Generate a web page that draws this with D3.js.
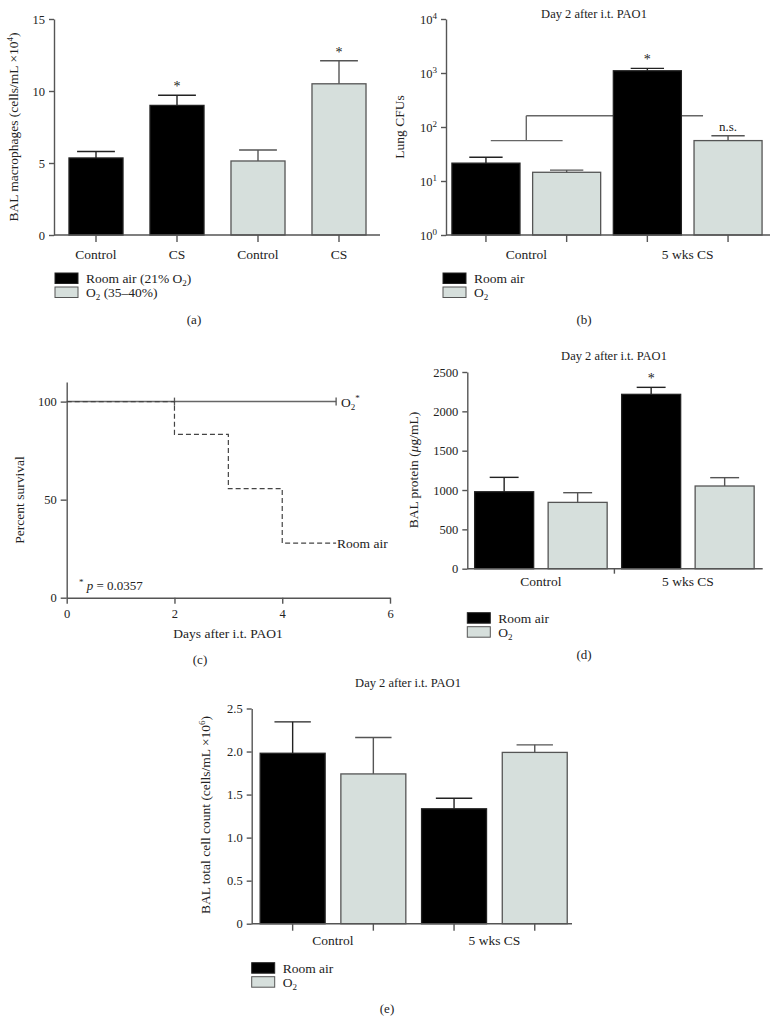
<!DOCTYPE html>
<html><head><meta charset="utf-8">
<script src="https://cdn.jsdelivr.net/npm/d3@7"></script>
<style>
body{margin:0;background:#fff}
svg text{font-family:"Liberation Serif","DejaVu Serif",serif;fill:#222}
</style>
</head><body>
<svg id="chart" width="778" height="1036"></svg>
<script>
// ---------- DATA ----------
// (a)
const aCategories = ["Control", "CS", "Control", "CS"];
const aSeries = ["room", "room", "o2", "o2"];
const aValues = [5.35, 9.0, 5.14, 10.5];
const aErrUpper = [5.8, 9.7, 5.9, 12.1];
const aStars = [false, true, false, true];
const aTicks = [0, 5, 10, 15];
// (b)
const bGroups = ["Control", "5 wks CS"];
const bSeries = ["room", "o2", "room", "o2"];
const bValues = [21.4, 14.5, 1100, 56];
const bErrUpper = [27.5, 15.9, 1220, 69];
const bTicks = [1, 10, 100, 1000, 10000];
const bBracket = [56, 162];
// (c)
const cO2 = [[0, 100], [5, 100]];
const cO2Censor = [2, 5];
const cRoomAir = [[0, 100], [2, 83.3], [3, 55.6], [4, 27.8], [5, 27.8]];
const cXTicks = [0, 2, 4, 6];
const cYTicks = [0, 50, 100];
// (d)
const dGroups = ["Control", "5 wks CS"];
const dSeries = ["room", "o2", "room", "o2"];
const dValues = [978, 843, 2216, 1051];
const dErrUpper = [1161, 966, 2305, 1157];
const dStars = [false, false, true, false];
const dTicks = [0, 500, 1000, 1500, 2000, 2500];
// (e)
const eGroups = ["Control", "5 wks CS"];
const eSeries = ["room", "o2", "room", "o2"];
const eValues = [1.98, 1.74, 1.335, 1.99];
const eErrUpper = [2.345, 2.163, 1.458, 2.078];
const eTicks = [0, 0.5, 1.0, 1.5, 2.0, 2.5];

// ---------- STYLE ----------
const FILL = {room: "#000000", o2: "#d6dfdc"};
const STROKE = {room: "#222", o2: "#555"};
const AX = "#555";
const svg = d3.select("#chart");

function styleAxis(g) {
  g.selectAll("path,line").attr("stroke", AX).attr("stroke-width", 1.4);
  g.selectAll("text").attr("fill", "#222");
}

function legend(x, y, labelsFn) {
  const g = svg.append("g").attr("transform", `translate(${x},${y})`);
  ["room", "o2"].forEach((k, i) => {
    g.append("rect").attr("x", 0).attr("y", i * 14).attr("width", 23).attr("height", 10.5)
      .attr("fill", FILL[k]).attr("stroke", STROKE[k]).attr("stroke-width", 1);
    const t = g.append("text").attr("x", 31).attr("y", i * 14 + 10).attr("font-size", 13.5);
    labelsFn(k, t);
  });
}

function barPanel(o) {
  const n = o.values.length;
  const x = d3.scaleBand().domain(d3.range(n)).range(o.band)
    .paddingInner(o.padIn).paddingOuter(o.padIn / 2);
  const y = o.y;
  const g = svg.append("g");
  const bw = x.bandwidth();
  const y0 = y.range()[0];
  if (o.behind) o.behind(g, x, y);
  g.selectAll("rect.bar").data(o.values).join("rect")
    .attr("x", (d, i) => x(i)).attr("width", bw)
    .attr("y", d => y(d)).attr("height", d => y0 - y(d))
    .attr("fill", (d, i) => FILL[o.series[i]])
    .attr("stroke", (d, i) => STROKE[o.series[i]]).attr("stroke-width", 1.3);
  const cap = bw * o.capFrac;
  o.err.forEach((e, i) => {
    const cx = x(i) + bw / 2;
    const col = o.series[i] === "room" ? "#222" : "#555";
    g.append("line").attr("x1", cx).attr("x2", cx).attr("y1", y(o.values[i])).attr("y2", y(e))
      .attr("stroke", col).attr("stroke-width", 1.4);
    g.append("line").attr("x1", cx - cap / 2).attr("x2", cx + cap / 2).attr("y1", y(e)).attr("y2", y(e))
      .attr("stroke", col).attr("stroke-width", 1.4);
    if (o.stars && o.stars[i]) {
      g.append("text").attr("x", cx).attr("y", y(e) - 4).attr("text-anchor", "middle")
        .attr("font-size", 14).text("*");
    }
  });
  const ya = g.append("g").attr("transform", `translate(${o.axisX0},0)`)
    .call(d3.axisLeft(y).tickValues(o.yTicks).tickSize(5).tickSizeOuter(0).tickPadding(4)
      .tickFormat(o.yFormat || (d => d)));
  ya.selectAll("text").attr("font-size", 12.5);
  styleAxis(ya);
  if (o.yTickHook) o.yTickHook(ya);
  g.append("line").attr("x1", o.axisX0).attr("x2", o.axisX1).attr("y1", y0).attr("y2", y0)
    .attr("stroke", AX).attr("stroke-width", 1.4);
  const tickXs = o.xTickMode === "middle"
    ? [(x(1) + bw + x(2)) / 2]
    : d3.range(n).map(i => x(i) + bw / 2);
  const tickLen = o.xTickMode === "middle" ? 5 : 7;
  tickXs.forEach(tx => g.append("line").attr("x1", tx).attr("x2", tx).attr("y1", y0).attr("y2", y0 + tickLen)
    .attr("stroke", AX).attr("stroke-width", 1.4));
  if (o.barLabels) {
    o.barLabels.forEach((l, i) => g.append("text").attr("x", x(i) + bw / 2).attr("y", y0 + 24)
      .attr("text-anchor", "middle").attr("font-size", 13.5).text(l));
  }
  if (o.groupLabels) {
    o.groupLabels.forEach((l, gi) => {
      const cx = (x(gi * 2) + x(gi * 2 + 1) + bw) / 2;
      g.append("text").attr("x", cx).attr("y", y0 + o.groupLabelDy)
        .attr("text-anchor", "middle").attr("font-size", 13.5).text(l);
    });
  }
  if (o.after) o.after(g, x, y);
  return {x, y};
}

function rotLabel(cx, cy, build) {
  const t = svg.append("text").attr("transform", `translate(${cx},${cy}) rotate(-90)`)
    .attr("text-anchor", "middle").attr("font-size", 13.5);
  build(t);
}
function title(cx, y, s) {
  svg.append("text").attr("x", cx).attr("y", y).attr("text-anchor", "middle").attr("font-size", 12.5).text(s);
}
function panelTag(cx, y, s) {
  svg.append("text").attr("x", cx).attr("y", y).attr("text-anchor", "middle").attr("font-size", 13).text(s);
}
function o2Label(k, t) {
  if (k === "room") t.text("Room air");
  else { t.append("tspan").text("O"); t.append("tspan").attr("dy", 3).attr("font-size", 9).text("2"); }
}

// ---------- (a) ----------
barPanel({
  values: aValues, err: aErrUpper, series: aSeries, stars: aStars,
  band: [55.5, 379.5], padIn: 0.333, capFrac: 0.7,
  y: d3.scaleLinear().domain([0, 15]).range([235, 19]), yTicks: aTicks,
  axisX0: 54, axisX1: 380, barLabels: aCategories
});
rotLabel(18, 127, t => {
  t.append("tspan").text("BAL macrophages (cells/mL \u00d710");
  t.append("tspan").attr("dy", -5).attr("font-size", 9).text("4");
  t.append("tspan").attr("dy", 5).text(")");
});
legend(55, 273, (k, t) => {
  if (k === "room") {
    t.append("tspan").text("Room air (21% O");
    t.append("tspan").attr("dy", 3).attr("font-size", 9).text("2");
    t.append("tspan").attr("dy", -3).text(")");
  } else {
    t.append("tspan").text("O");
    t.append("tspan").attr("dy", 3).attr("font-size", 9).text("2");
    t.append("tspan").attr("dy", -3).text(" (35\u201340%)");
  }
});
panelTag(194, 324, "(a)");

// ---------- (b) ----------
barPanel({
  values: bValues, err: bErrUpper, series: bSeries, stars: [false, false, true, false],
  band: [445.6, 768.4], padIn: 0.157, capFrac: 0.49,
  y: d3.scaleLog().domain([1, 10000]).range([235, 19]), yTicks: bTicks,
  yFormat: () => "",
  yTickHook: ya => {
    ya.selectAll(".tick text").each(function (d) {
      const t = d3.select(this);
      t.append("tspan").text("10");
      t.append("tspan").attr("dy", -5).attr("font-size", 9).text(Math.round(Math.log10(d)));
    });
  },
  axisX0: 446, axisX1: 770, groupLabels: bGroups, groupLabelDy: 24,
  behind: (g, x, y) => {
    const bw = x.bandwidth();
    const c1 = (x(0) + x(1) + bw) / 2;
    const xEnd = x(2) + bw / 2 + x.step() * 0.69;
    const L = [
      [c1 - x.step() * 0.44, y(bBracket[0]), c1 + x.step() * 0.45, y(bBracket[0])],
      [c1, y(bBracket[0]), c1, y(bBracket[1])],
      [c1, y(bBracket[1]), xEnd, y(bBracket[1])]
    ];
    L.forEach(l => g.append("line").attr("x1", l[0]).attr("y1", l[1]).attr("x2", l[2]).attr("y2", l[3])
      .attr("stroke", "#666").attr("stroke-width", 1.4));
  },
  after: (g, x, y) => {
    g.append("text").attr("x", x(3) + x.bandwidth() / 2).attr("y", y(bErrUpper[3]) - 5)
      .attr("text-anchor", "middle").attr("font-size", 13).text("n.s.");
  }
});
title(594, 18, "Day 2 after i.t. PAO1");
rotLabel(404, 127, t => t.text("Lung CFUs"));
legend(443, 273, o2Label);
panelTag(584, 324, "(b)");

// ---------- (c) ----------
(function () {
  const x = d3.scaleLinear().domain([0, 6]).range([66.7, 390]);
  const y = d3.scaleLinear().domain([0, 110]).range([597.7, 382]);
  const g = svg.append("g");
  const xa = g.append("g").attr("transform", `translate(0,${y(0)})`)
    .call(d3.axisBottom(x).tickValues(cXTicks).tickSize(6).tickSizeOuter(0).tickPadding(5).tickFormat(d => d));
  xa.selectAll("text").attr("font-size", 12.5);
  styleAxis(xa);
  const ya = g.append("g").attr("transform", `translate(${x(0)},0)`)
    .call(d3.axisLeft(y).tickValues(cYTicks).tickSize(6).tickSizeOuter(0).tickPadding(4).tickFormat(d => d));
  ya.selectAll("text").attr("font-size", 12.5);
  styleAxis(ya);
  const line = d3.line().x(d => x(d[0])).y(d => y(d[1])).curve(d3.curveStepAfter);
  g.append("path").datum(cO2).attr("d", line).attr("fill", "none").attr("stroke", "#666").attr("stroke-width", 1.5);
  cO2Censor.forEach(d => g.append("line").attr("x1", x(d)).attr("x2", x(d)).attr("y1", y(100) - 4).attr("y2", y(100) + 4)
    .attr("stroke", "#555").attr("stroke-width", 1.3));
  g.append("path").datum(cRoomAir).attr("d", line).attr("fill", "none").attr("stroke", "#444")
    .attr("stroke-width", 1.2).attr("stroke-dasharray", "5,3");
  const last = cRoomAir[cRoomAir.length - 1];
  g.append("text").attr("x", x(last[0]) + 1).attr("y", y(last[1]) + 5).attr("font-size", 13.5).text("Room air");
  const t = g.append("text").attr("x", x(cO2[1][0]) + 5).attr("y", y(100) + 5).attr("font-size", 13.5);
  t.append("tspan").text("O");
  t.append("tspan").attr("dy", 3).attr("font-size", 9).text("2");
  t.append("tspan").attr("dy", -9).attr("font-size", 9).text("*");
  const p = g.append("text").attr("x", 79).attr("y", 590).attr("font-size", 13);
  p.append("tspan").attr("dy", -5).attr("font-size", 9).text("*");
  p.append("tspan").attr("dy", 5).attr("font-style", "italic").text(" p");
  p.append("tspan").text(" = 0.0357");
  svg.append("text").attr("x", 228).attr("y", 638).attr("text-anchor", "middle").attr("font-size", 13.5).text("Days after i.t. PAO1");
  rotLabel(24, 500, tt => tt.text("Percent survival"));
  panelTag(200, 664, "(c)");
})();

// ---------- (d) ----------
barPanel({
  values: dValues, err: dErrUpper, series: dSeries, stars: dStars,
  band: [467.4, 761.4], padIn: 0.197, capFrac: 0.49,
  y: d3.scaleLinear().domain([0, 2500]).range([568.7, 372]), yTicks: dTicks,
  axisX0: 467.3, axisX1: 762.7, groupLabels: dGroups, groupLabelDy: 17, xTickMode: "middle"
});
title(614, 360, "Day 2 after i.t. PAO1");
rotLabel(418, 470, t => {
  t.append("tspan").text("BAL protein (");
  t.append("tspan").attr("font-style", "italic").text("\u03bc");
  t.append("tspan").text("g/mL)");
});
legend(467.3, 612.7, o2Label);
panelTag(584, 659, "(d)");

// ---------- (e) ----------
barPanel({
  values: eValues, err: eErrUpper, series: eSeries,
  band: [252.3, 575.1], padIn: 0.195, capFrac: 0.56,
  y: d3.scaleLinear().domain([0, 2.5]).range([923.7, 708.5]), yTicks: eTicks,
  yFormat: d => d === 0 ? "0" : d3.format(".1f")(d),
  axisX0: 251.7, axisX1: 572, groupLabels: eGroups, groupLabelDy: 21
});
title(408, 687, "Day 2 after i.t. PAO1");
rotLabel(210, 815, t => {
  t.append("tspan").text("BAL total cell count (cells/mL \u00d710");
  t.append("tspan").attr("dy", -5).attr("font-size", 9).text("6");
  t.append("tspan").attr("dy", 5).text(")");
});
legend(251.7, 962.7, o2Label);
panelTag(387, 1013, "(e)");
</script>
</body></html>
